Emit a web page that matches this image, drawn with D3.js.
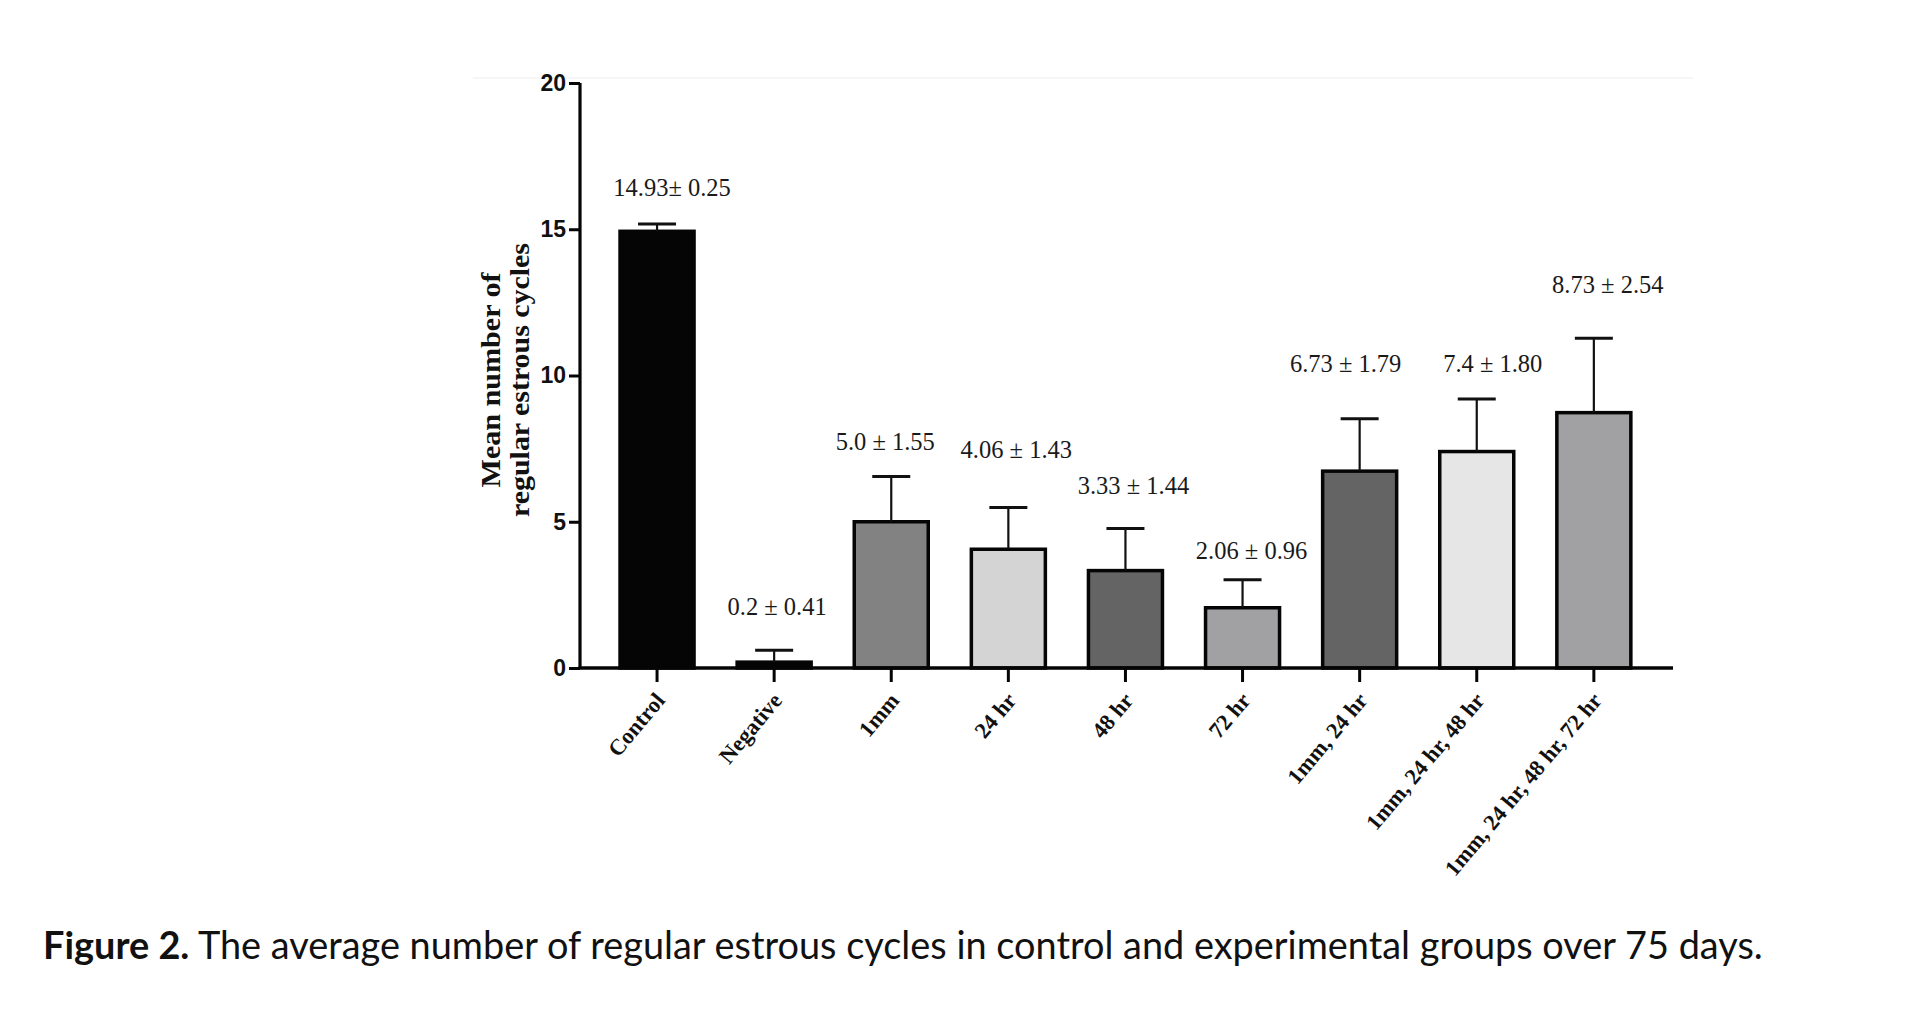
<!DOCTYPE html>
<html>
<head>
<meta charset="utf-8">
<script src="https://cdn.jsdelivr.net/npm/d3@7"></script>
<style>
  html, body { margin: 0; padding: 0; background: #ffffff; }
  svg { display: block; }
</style>
</head>
<body>
<svg id="chart" width="1916" height="1026"></svg>
<script>
// ---------------- data ----------------
const categories = ["Control", "Negative", "1mm", "24 hr", "48 hr", "72 hr",
  "1mm, 24 hr", "1mm, 24 hr, 48 hr", "1mm, 24 hr, 48 hr, 72 hr"];
const means = [14.93, 0.2, 5.0, 4.06, 3.33, 2.06, 6.73, 7.4, 8.73];
const sds = [0.25, 0.41, 1.55, 1.43, 1.44, 0.96, 1.79, 1.80, 2.54];
const valueLabels = ["14.93\u00b1 0.25", "0.2 \u00b1 0.41", "5.0 \u00b1 1.55", "4.06 \u00b1 1.43",
  "3.33 \u00b1 1.44", "2.06 \u00b1 0.96", "6.73 \u00b1 1.79", "7.4 \u00b1 1.80", "8.73 \u00b1 2.54"];
const yTicks = [0, 5, 10, 15, 20];
const yTitleLines = ["Mean number of", "regular estrous cycles"];
const captionBold = "Figure 2.";
const captionText = " The average number of regular estrous cycles in control and experimental groups over 75 days.";

// ---------------- styles / layout ----------------
const barFills = ["#050505", "#050505", "#828282", "#d4d4d4", "#646464", "#a1a1a4", "#646464", "#e6e6e6", "#a1a1a4"];
// annotation placement (label baseline level in data units, horizontal nudge in px)
const labelLevel = [16.14, 1.81, 7.45, 7.18, 5.95, 3.73, 10.12, 10.12, 12.82];
const labelDx = [15, 3, -6, 8, 8, 9, -14, 16, 14];

const svg = d3.select("#chart");

const y = d3.scaleLinear().domain([0, 20]).range([668, 83]);
const x = d3.scaleBand().domain(categories).range([598.5, 1652.4])
  .paddingInner(0.368).paddingOuter(0.184);

const axisX0 = 580, axisX1 = 1673;

// faint frame line at top
svg.append("line").attr("x1", 473).attr("x2", 1693).attr("y1", 78).attr("y2", 78)
  .attr("stroke", "#f3f3f3").attr("stroke-width", 1.5);

// bars
svg.append("g").selectAll("rect").data(categories).join("rect")
  .attr("x", d => x(d))
  .attr("y", (d, i) => y(means[i]))
  .attr("width", x.bandwidth())
  .attr("height", (d, i) => y(0) - y(means[i]))
  .attr("fill", (d, i) => barFills[i])
  .attr("stroke", "#050505")
  .attr("stroke-width", 3.5);

// error bars (upper only)
const eb = svg.append("g").attr("stroke", "#111");
categories.forEach((c, i) => {
  const cx = x(c) + x.bandwidth() / 2;
  eb.append("line").attr("x1", cx).attr("x2", cx)
    .attr("y1", y(means[i])).attr("y2", y(means[i] + sds[i])).attr("stroke-width", 2.2);
  eb.append("line").attr("x1", cx - 19).attr("x2", cx + 19)
    .attr("y1", y(means[i] + sds[i])).attr("y2", y(means[i] + sds[i])).attr("stroke-width", 3);
});

// value labels
svg.append("g").selectAll("text").data(categories).join("text")
  .attr("x", (d, i) => x(d) + x.bandwidth() / 2 + labelDx[i])
  .attr("y", (d, i) => y(labelLevel[i]))
  .attr("text-anchor", "middle")
  .attr("font-family", "'Liberation Serif', 'Times New Roman', serif")
  .attr("font-size", 24.5)
  .attr("fill", "#1a1a1a")
  .text((d, i) => valueLabels[i]);

// y axis
const yAxis = svg.append("g").attr("transform", `translate(${axisX0},0)`)
  .call(d3.axisLeft(y).tickValues(yTicks).tickSize(11).tickPadding(3).tickFormat(d3.format("d")));
yAxis.select(".domain").attr("stroke", "#050505").attr("stroke-width", 3.2)
  .attr("d", `M0,${y(20)}V${y(0)}`);
yAxis.selectAll(".tick line").attr("stroke", "#050505").attr("stroke-width", 3);
yAxis.selectAll(".tick text")
  .attr("font-family", "'Liberation Sans Narrow', 'Liberation Sans', Arial, sans-serif")
  .attr("font-weight", "bold").attr("font-size", 23).attr("fill", "#111");

// x axis
const xAxis = svg.append("g").attr("transform", `translate(0,${y(0)})`)
  .call(d3.axisBottom(x).tickSize(14).tickFormat(""));
xAxis.select(".domain").attr("stroke", "#050505").attr("stroke-width", 3.5)
  .attr("d", `M${axisX0 - 1.5},0H${axisX1}`);
xAxis.selectAll(".tick line").attr("stroke", "#050505").attr("stroke-width", 3);

// rotated category labels
svg.append("g").selectAll("text").data(categories).join("text")
  .attr("transform", d => `translate(${x(d) + x.bandwidth() / 2 + 3},${y(0) + 28}) rotate(-50)`)
  .attr("text-anchor", "end")
  .attr("dy", "0.35em")
  .attr("font-family", "'Liberation Serif', 'Times New Roman', serif")
  .attr("font-weight", "bold")
  .attr("font-size", 22.5)
  .attr("fill", "#111")
  .text(d => d);

// y axis title
const titleLens = [215, 274];
const titleBase = [500, 529];
yTitleLines.forEach((t, i) => {
  svg.append("text")
    .attr("transform", `translate(${titleBase[i]},380) rotate(-90)`)
    .attr("text-anchor", "middle")
    .attr("font-family", "'Liberation Serif', 'Times New Roman', serif")
    .attr("font-weight", "bold")
    .attr("font-size", 27)
    .attr("textLength", titleLens[i])
    .attr("lengthAdjust", "spacingAndGlyphs")
    .attr("fill", "#111")
    .text(t);
});

// caption
const cap = svg.append("text").attr("x", 43).attr("y", 959)
  .attr("font-family", "Lato, 'Open Sans', sans-serif")
  .attr("font-size", 27).attr("fill", "#111");
cap.append("tspan").attr("font-weight", "bold").text(captionBold);
cap.append("tspan").text(captionText);
const w = cap.node().getComputedTextLength();
cap.attr("font-size", 27 * 1720 / w);
</script>
</body>
</html>
